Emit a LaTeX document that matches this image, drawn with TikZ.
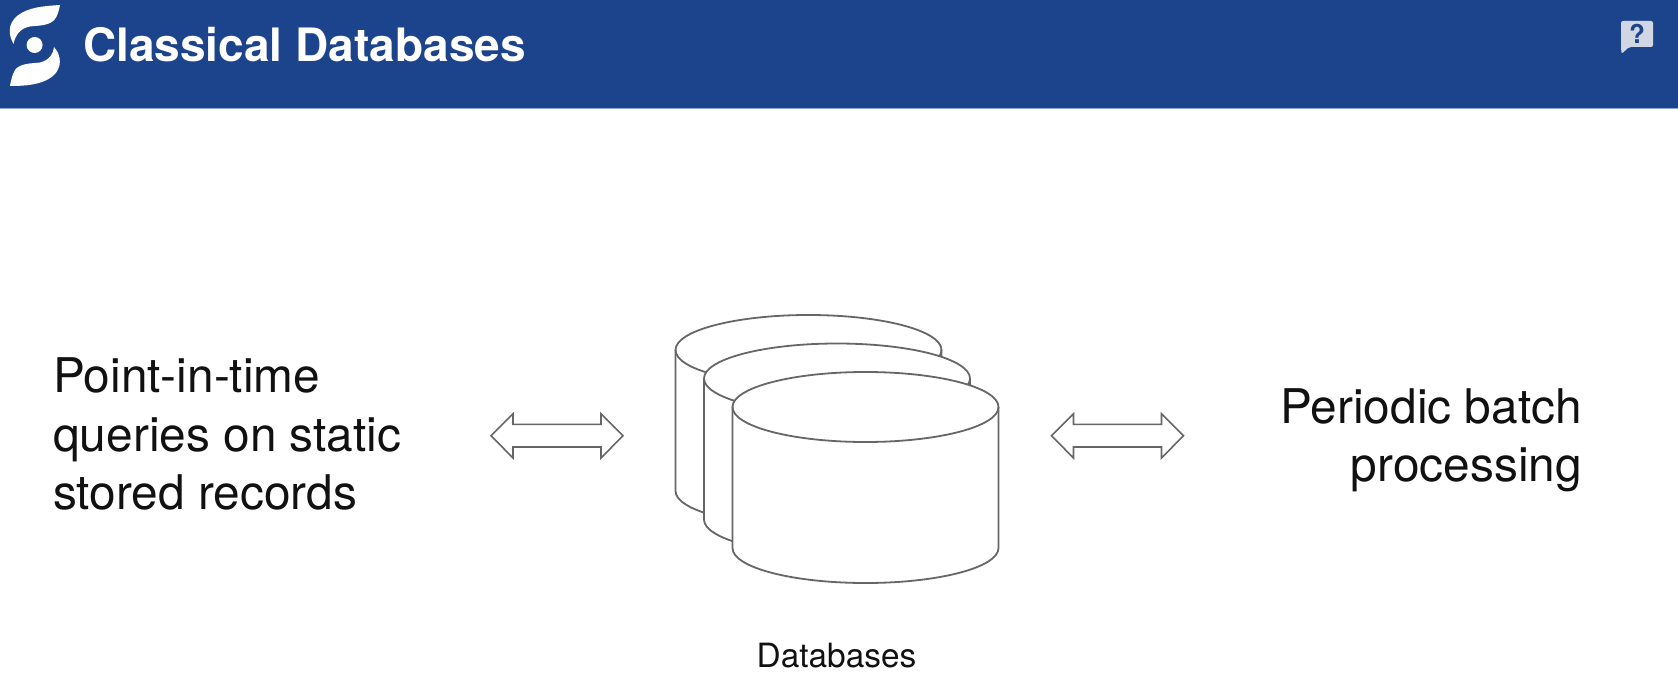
\documentclass[tikz,border=0pt]{standalone}
\usepackage{fontspec}
\setmainfont{TeX Gyre Heros}
\definecolor{hdr}{HTML}{1C448C}
\definecolor{hdrline}{HTML}{8FA6CC}
\definecolor{helpbg}{HTML}{D0D6E4}
\definecolor{ink}{HTML}{111111}
\definecolor{shape}{HTML}{666666}
\tikzset{
  dbcyl/.style={draw=shape,line width=1.8pt,fill=white},
  dbarrow/.style={draw=shape,line width=1.6pt,fill=white,line join=miter},
  bigtext/.style={text=ink,font=\fontsize{47.8}{58.3}\selectfont,inner sep=0pt},
}
\newcommand{\cyl}[3]{% cx, cy top ellipse, name
  \path[dbcyl] (#1-133,#2) -- (#1-133,#2+141) arc[start angle=180,end angle=0,x radius=133,y radius=35] -- (#1+133,#2) arc[start angle=0,end angle=-180,x radius=133,y radius=35] -- cycle;
  \draw[dbcyl,fill=none] (#1-133,#2) arc[start angle=180,end angle=0,x radius=133,y radius=35];
  \coordinate (#3) at (#1,#2);
}
\newcommand{\dblarrow}[2]{% left x, name
  \path[dbarrow] (#1,435.7) -- (#1+22,413.7) -- (#1+22,424.3) -- (#1+110,424.3) -- (#1+110,413.7) -- (#1+132,435.7) -- (#1+110,458) -- (#1+110,447) -- (#1+22,447) -- (#1+22,458) -- cycle;
  \coordinate (#2) at (#1+66,435.7);
}
\begin{document}
\begin{tikzpicture}[x=1pt,y=-1pt]
\useasboundingbox (0,0) rectangle (1678,674);
\fill[white] (0,0) rectangle (1678,674);
\fill[hdr] (0,0) rectangle (1678,108);
\fill[hdrline] (0,107.6) rectangle (1678,109);
% logo
\fill[white] (60,5) .. controls (45,6) and (28,7) .. (17,16) .. controls (8,24) and (8,34) .. (13.5,44)
  .. controls (15,36) and (20,28) .. (30,26.5) .. controls (38,25.5) and (50,26) .. (55,19) .. controls (58,15) and (59,10) .. (60,5) -- cycle;
\fill[white] (10,86) .. controls (25,86) and (42,85) .. (53,76) .. controls (62,68) and (62,56) .. (54,47)
  .. controls (53.5,53) and (50,60) .. (40,62.5) .. controls (32,63.5) and (20,63) .. (15,70) .. controls (12,75) and (11,81) .. (10,86) -- cycle;
\fill[white] (34.6,45) circle (8);
\node[anchor=base west,inner sep=0pt,text=white,font=\fontsize{46}{50}\selectfont\bfseries] (title) at (83,62) {Classical Databases};
% help icon
\path[fill=helpbg,rounded corners=2pt] (1621,21) -- (1653,21) -- (1653,47) -- (1629,47) -- (1621.5,54) -- (1621,47) -- cycle;
\node[text=hdr,font=\fontsize{26}{26}\selectfont\bfseries,inner sep=0pt] (help) at (1637,34) {?};
% cylinders
\cyl{808.5}{350}{back}
\cyl{837}{378.5}{mid}
\cyl{865.5}{407}{front}
% arrows
\dblarrow{491}{al}
\dblarrow{1051.5}{ar}
% text
\node[bigtext,anchor=base west,align=left] (left) at (53,509.5) {Point-in-time\\queries on static\\stored records};
\node[bigtext,anchor=base east,align=right] (right) at (1582,481.5) {Periodic batch\\processing};
\node[anchor=base,inner sep=0pt,text=ink,font=\fontsize{33.4}{36}\selectfont] (dbl) at (836.5,667) {Databases};
\end{tikzpicture}
\end{document}
